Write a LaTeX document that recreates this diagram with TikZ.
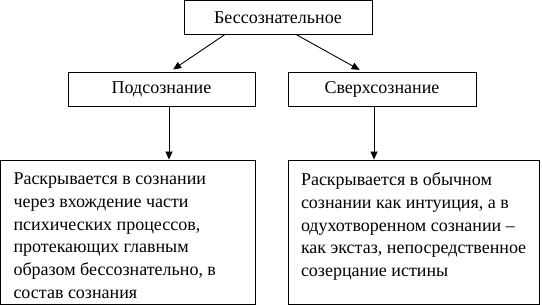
\documentclass[tikz,border=0pt]{standalone}
\usepackage{fontspec}
\setmainfont{Liberation Serif}
\usepackage{tikz}
\usetikzlibrary{arrows.meta, positioning}
\tikzset{
  block/.style={rectangle, draw=black, fill=white, align=center,
    minimum height=33.5pt, inner sep=0pt, line width=0.9pt,
    font=\fontsize{18}{22.7}\selectfont},
  desc/.style={rectangle, draw=black, inner xsep=13pt, inner ysep=13pt,
    line width=0.9pt, font=\fontsize{18}{22.7}\selectfont},
  arrow/.style={-{Triangle[length=8pt, width=7pt]}, line width=0.9pt, color=black}
}
\newcommand{\desctext}[2]{\parbox[c][118pt][t]{#1}{\raggedright #2}}

\begin{document}
\begin{tikzpicture}[x=1pt, y=-1pt]
  \useasboundingbox (0,0) rectangle (542,305);

  % Top block
  \node[block, minimum width=188pt] (bess) at (278, 17.25) {Бессознательное};

  % Second level
  \node[block, minimum width=187pt] (pod) at (161.5, 89.5) {Подсознание};
  \node[block, minimum width=188pt] (sverh) at (382, 89.5) {Сверхсознание};

  % Descriptions
  \node[desc] (podtxt) at (127.75, 232) {\desctext{228.5pt}{Раскрывается в сознании\\
    через вхождение части\\ психических процессов,\\ протекающих главным\\
    образом бессознательно, в\\ состав сознания}};
  \node[desc] (sverhtxt) at (413.75, 232) {\desctext{225.5pt}{Раскрывается в обычном\\
    сознании как интуиция, а в\\ одухотворенном сознании –\\
    как экстаз, непосредственное\\ созерцание истины}};

  % Arrows from the top block
  \draw[arrow, shorten >=5pt] ([xshift=-53pt]bess.south) -- ([xshift=7.5pt]pod.north);
  \draw[arrow, shorten >=5pt] ([xshift=18pt]bess.south) -- ([xshift=-18pt]sverh.north);

  % Arrows down to the descriptions
  \draw[arrow] ([xshift=7.5pt]pod.south) -- ([xshift=7.5pt]pod.south |- podtxt.north);
  \draw[arrow] ([xshift=-8pt]sverh.south) -- ([xshift=-8pt]sverh.south |- sverhtxt.north);
\end{tikzpicture}
\end{document}
